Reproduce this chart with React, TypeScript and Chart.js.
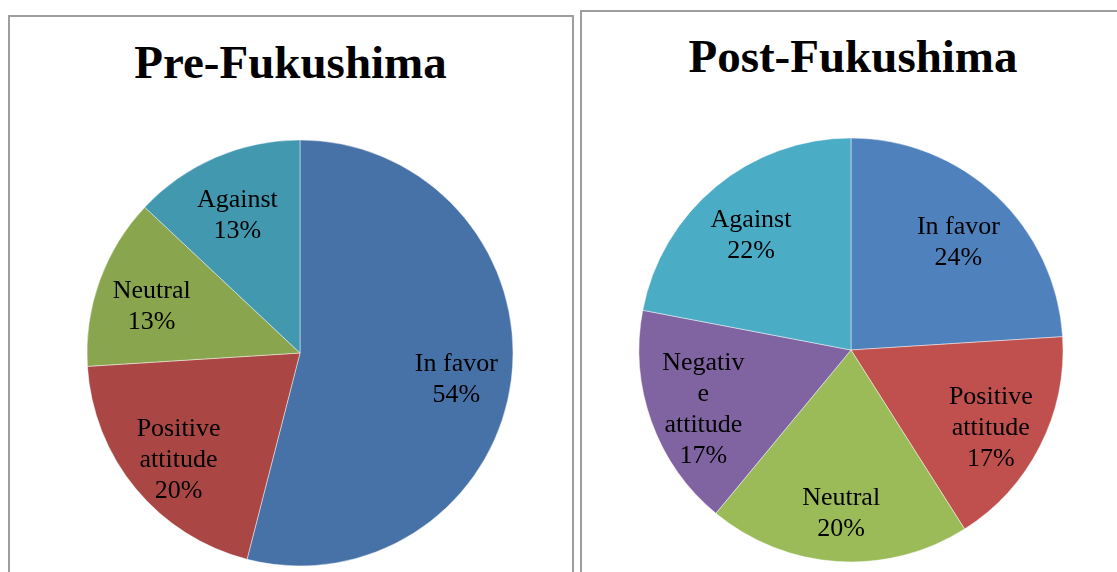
import React, { useEffect, useRef } from "react";
import { Chart, registerables } from "chart.js";

Chart.register(...registerables);

// ---- Data ----
const preTitle = "Pre-Fukushima";
const preCategories = ["In favor", "Positive attitude", "Neutral", "Against"];
const preValues = [54, 20, 13, 13];
const preColors = ["#4672A8", "#AA4643", "#89A54E", "#4198AF"];

const postTitle = "Post-Fukushima";
const postCategories = ["In favor", "Positive attitude", "Neutral", "Negative attitude", "Against"];
const postValues = [24, 17, 20, 17, 22];
const postColors = ["#4F81BD", "#C0504D", "#9BBB59", "#8064A2", "#4BACC6"];

const SERIF = '"Liberation Serif", "Times New Roman", serif';
const LABEL_FONT = `26px ${SERIF}`;

function wrapText(ctx: CanvasRenderingContext2D, text: string, maxW: number): string[] {
  const words = text.split(" ");
  const lines: string[] = [];
  let cur = "";
  const splitWord = (w: string) => {
    if (ctx.measureText(w).width <= maxW) return [w];
    const parts: string[] = [];
    let p = "";
    for (const ch of w) {
      if (ctx.measureText(p + ch).width > maxW && p) {
        parts.push(p);
        p = ch;
      } else p += ch;
    }
    if (p) parts.push(p);
    return parts;
  };
  for (const w of words) {
    const cand = cur ? cur + " " + w : w;
    if (ctx.measureText(cand).width <= maxW) {
      cur = cand;
    } else {
      if (cur) lines.push(cur);
      const parts = splitWord(w);
      for (let i = 0; i < parts.length - 1; i++) lines.push(parts[i]);
      cur = parts[parts.length - 1];
    }
  }
  if (cur) lines.push(cur);
  return lines;
}

const sliceLabels = {
  id: "sliceLabels",
  afterDatasetsDraw(chart: any) {
    const ctx: CanvasRenderingContext2D = chart.ctx;
    const meta = chart.getDatasetMeta(0);
    const data = chart.data.datasets[0].data as number[];
    const total = data.reduce((a: number, b: number) => a + b, 0);
    ctx.save();
    ctx.font = LABEL_FONT;
    ctx.fillStyle = "#000";
    ctx.textAlign = "center";
    ctx.textBaseline = "middle";
    meta.data.forEach((arc: any, i: number) => {
      const { x, y, startAngle, endAngle, outerRadius } = arc.getProps(
        ["x", "y", "startAngle", "endAngle", "outerRadius"],
        true
      );
      const mid = (startAngle + endAngle) / 2;
      const r = outerRadius * 0.74;
      const cx = x + Math.cos(mid) * r;
      const cy = y + Math.sin(mid) * r + 7;
      const lines = [
        ...wrapText(ctx, String(chart.data.labels[i]), 88),
        Math.round((data[i] / total) * 100) + "%",
      ];
      const lh = 31;
      lines.forEach((ln, k) => {
        ctx.fillText(ln, cx, cy + (k - (lines.length - 1) / 2) * lh);
      });
    });
    ctx.restore();
  },
};

type PieProps = {
  categories: string[];
  values: number[];
  colors: string[];
  left: number;
  top: number;
  radius: number;
};

function PieCanvas({ categories, values, colors, left, top, radius }: PieProps) {
  const ref = useRef<HTMLCanvasElement>(null);
  useEffect(() => {
    if (!ref.current) return;
    const chart = new Chart(ref.current, {
      type: "pie",
      data: {
        labels: categories,
        datasets: [
          {
            data: values,
            backgroundColor: colors,
            borderColor: "rgba(255,255,255,0.45)",
            borderWidth: 1,
            radius: radius,
          } as any,
        ],
      },
      options: {
        responsive: false,
        animation: false,
        layout: { padding: 0 },
        plugins: {
          legend: { display: false },
          tooltip: { enabled: false },
          title: { display: false },
        },
      },
      plugins: [sliceLabels],
    });
    return () => chart.destroy();
  }, []);
  return (
    <canvas
      ref={ref}
      width={440}
      height={440}
      style={{ position: "absolute", left, top, width: 440, height: 440 }}
    />
  );
}

const panelBorder = "2px solid #9e9e9e";

export default function App() {
  return (
    <div
      style={{
        position: "fixed",
        left: 0,
        top: 0,
        width: 1117,
        height: 572,
        overflow: "hidden",
        background: "#fff",
      }}
    >
      <div
        style={{
          position: "absolute",
          left: 8,
          top: 15,
          width: 566,
          height: 700,
          border: panelBorder,
          boxSizing: "border-box",
        }}
      />
      <div
        style={{
          position: "absolute",
          left: 580,
          top: 10,
          width: 700,
          height: 700,
          border: panelBorder,
          boxSizing: "border-box",
        }}
      />
      <div
        style={{
          position: "absolute",
          left: 8,
          top: 34,
          width: 565,
          textAlign: "center",
          font: `bold 47px ${SERIF}`,
          lineHeight: "56px",
          color: "#000",
        }}
      >
        {preTitle}
      </div>
      <div
        style={{
          position: "absolute",
          left: 580,
          top: 28,
          width: 546,
          textAlign: "center",
          font: `bold 47px ${SERIF}`,
          lineHeight: "56px",
          color: "#000",
        }}
      >
        {postTitle}
      </div>
      <PieCanvas
        categories={preCategories}
        values={preValues}
        colors={preColors}
        left={80}
        top={133}
        radius={213}
      />
      <PieCanvas
        categories={postCategories}
        values={postValues}
        colors={postColors}
        left={631}
        top={130}
        radius={212}
      />
    </div>
  );
}
